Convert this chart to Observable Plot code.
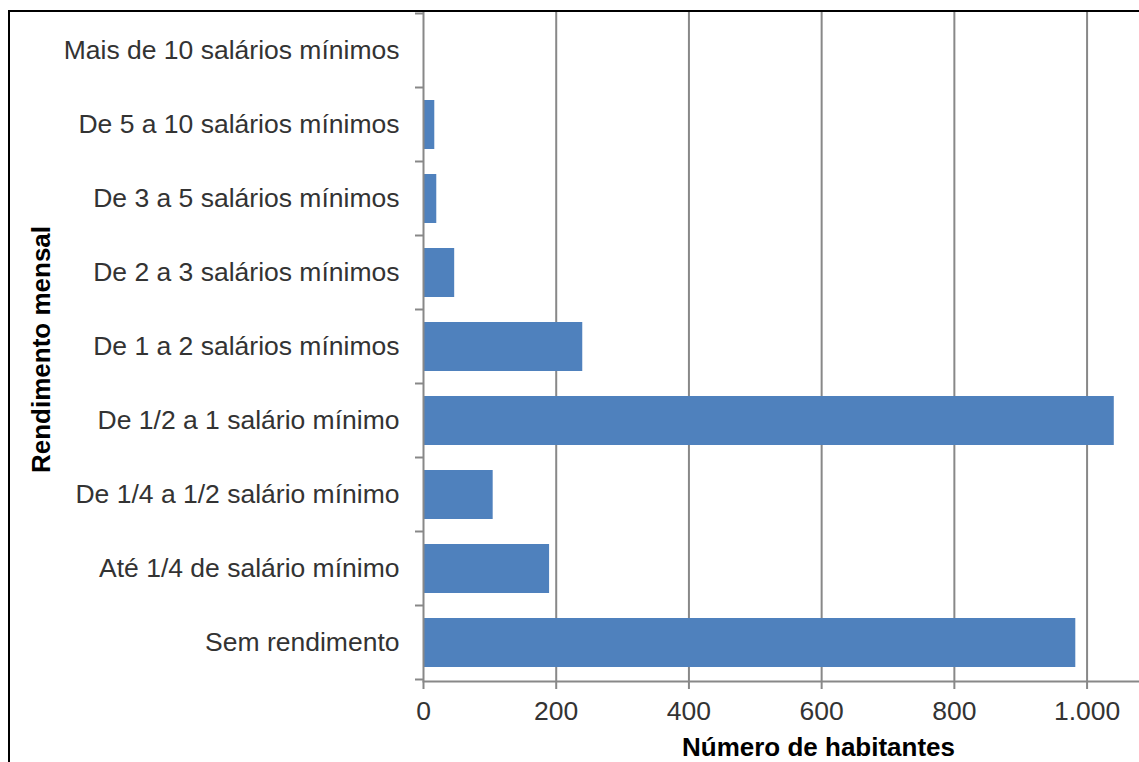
<!DOCTYPE html>
<html>
<head>
<meta charset="utf-8">
<script src="https://cdn.jsdelivr.net/npm/d3@7"></script>
<script src="https://cdn.jsdelivr.net/npm/@observablehq/plot@0.6"></script>
<style>
  html, body { margin: 0; padding: 0; background: #fff; overflow: hidden; }
  #chart { position: relative; width: 1139px; height: 762px; }
</style>
</head>
<body>
<div id="chart"></div>
<script>
// Income brackets, top to bottom, and number of inhabitants in each
const categories = [
  "Mais de 10 salários mínimos",
  "De 5 a 10 salários mínimos",
  "De 3 a 5 salários mínimos",
  "De 2 a 3 salários mínimos",
  "De 1 a 2 salários mínimos",
  "De 1/2 a 1 salário mínimo",
  "De 1/4 a 1/2 salário mínimo",
  "Até 1/4 de salário mínimo",
  "Sem rendimento"
];
const values = [0, 17, 20, 47, 240, 1041, 105, 190, 983];
const xTicks = [0, 200, 400, 600, 800, 1000];
const xTitle = "Número de habitantes";
const yTitle = "Rendimento mensal";

const data = categories.map((category, i) => ({category, value: values[i]}));

// Brazilian number format: 1.000
const fmt = d3.formatLocale({decimal: ",", thousands: ".", grouping: [3], currency: ["R$", ""]}).format(",");

const axisGray = "#888888";
const textColor = "#333333";

const chart = Plot.plot({
  width: 1139,
  height: 762,
  marginLeft: 423,
  marginRight: 0,
  marginTop: 11,
  marginBottom: 81,
  style: {
    fontFamily: "'Liberation Sans', Arial, sans-serif",
    fontSize: "26.5px",
    color: textColor,
    background: "#fff",
    overflow: "visible"
  },
  x: {domain: [0, 1079]},
  y: {domain: categories, paddingInner: 0.34, paddingOuter: 0.17},
  marks: [
    Plot.gridX(xTicks.filter(t => t > 0), {stroke: axisGray, strokeOpacity: 1, strokeWidth: 2}),
    Plot.barX(data, {x: "value", y: "category", fill: "#4F81BD"}),
    Plot.ruleX([0], {stroke: axisGray, strokeWidth: 2}),
    Plot.frame({anchor: "bottom", stroke: axisGray, strokeWidth: 2}),
    Plot.axisX({
      ticks: xTicks, tickSize: 8, tickPadding: 12, tickFormat: fmt,
      stroke: axisGray, strokeWidth: 2, label: null
    }),
    Plot.axisY({tickSize: 0, tickPadding: 24, label: null}),
    Plot.text([yTitle], {
      frameAnchor: "left", rotate: -90, dx: -382, dy: 3,
      fontWeight: "bold", fontSize: 26, fill: "#000", textAnchor: "middle", lineAnchor: "middle"
    }),
    Plot.text([xTitle], {
      frameAnchor: "bottom", dx: 37, dy: 66,
      fontWeight: "bold", fontSize: 26, fill: "#000", textAnchor: "middle", lineAnchor: "middle"
    })
  ]
});

// Category boundary ticks on the left axis, placed from the band scale
const ys = chart.scale("y");
const xs = chart.scale("x");
const gap = (ys.step - ys.bandwidth) / 2;
const boundaries = categories.map(c => ys.apply(c) - gap);
boundaries.push(ys.apply(categories[categories.length - 1]) + ys.bandwidth + gap);
const x0 = xs.apply(0);
const svg = d3.select(chart);
svg.append("g")
  .attr("stroke", axisGray)
  .attr("stroke-width", 2)
  .selectAll("line")
  .data(boundaries)
  .join("line")
  .attr("x1", x0 - 8)
  .attr("x2", x0)
  .attr("y1", d => d)
  .attr("y2", d => d);

// Black outer border along the top and left edges
const border = svg.append("g").attr("stroke", "#000").attr("stroke-width", 2);
border.append("line").attr("x1", 8).attr("x2", 1139).attr("y1", 11).attr("y2", 11);
border.append("line").attr("x1", 9).attr("x2", 9).attr("y1", 10).attr("y2", 762);

document.getElementById("chart").appendChild(chart);
</script>
</body>
</html>
